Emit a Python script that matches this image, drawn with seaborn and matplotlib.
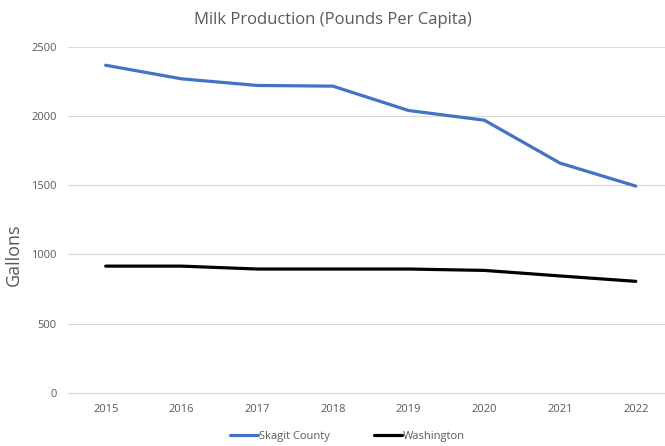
import matplotlib
matplotlib.use("Agg")
import matplotlib.pyplot as plt
import seaborn as sns
import pandas as pd

years = [2015, 2016, 2017, 2018, 2019, 2020, 2021, 2022]
skagit = [2367, 2269, 2221, 2216, 2040, 1970, 1660, 1494]
washington = [916, 916, 895, 895, 895, 885, 845, 806]
series_names = ["Skagit County", "Washington"]

df = pd.DataFrame({
    "Year": [str(y) for y in years] * 2,
    "Value": skagit + washington,
    "Series": [series_names[0]] * len(years) + [series_names[1]] * len(years),
})

sns.set_style("white")
plt.rcParams["font.family"] = ["Open Sans", "DejaVu Sans"]

fig = plt.figure(figsize=(6.65, 4.46), dpi=100)
ax = fig.add_axes([0.102, 0.119, 0.911, 0.776])

sns.lineplot(data=df, x="Year", y="Value", hue="Series",
             palette={"Skagit County": "#4472C4", "Washington": "#000000"},
             linewidth=2.3, sort=False, ax=ax)

ax.set_ylim(0, 2500)
ax.set_yticks(range(0, 2501, 500))
ax.set_xlim(-0.5, len(years) - 0.5)
ax.yaxis.grid(True, color="#D9D9D9", linewidth=0.8)
ax.set_axisbelow(True)
for s in ["top", "right", "left"]:
    ax.spines[s].set_visible(False)
ax.spines["bottom"].set_color("#D9D9D9")
ax.tick_params(axis="both", length=0, labelsize=8, labelcolor="#595959", pad=8)

ax.set_xlabel("")
ax.set_ylabel("Gallons", fontsize=13, color="#595959")
ax.yaxis.set_label_coords(-0.075, 0.4)
fig.text(0.5, 0.955, "Milk Production (Pounds Per Capita)", ha="center", va="center",
         fontsize=12, color="#595959")

leg = ax.legend(loc="upper center", bbox_to_anchor=(0.462, -0.08), ncol=2, frameon=False,
                fontsize=8, labelcolor="#595959", handlelength=2.5, handletextpad=0.1,
                columnspacing=4)

fig.savefig("out.png", dpi=100)
